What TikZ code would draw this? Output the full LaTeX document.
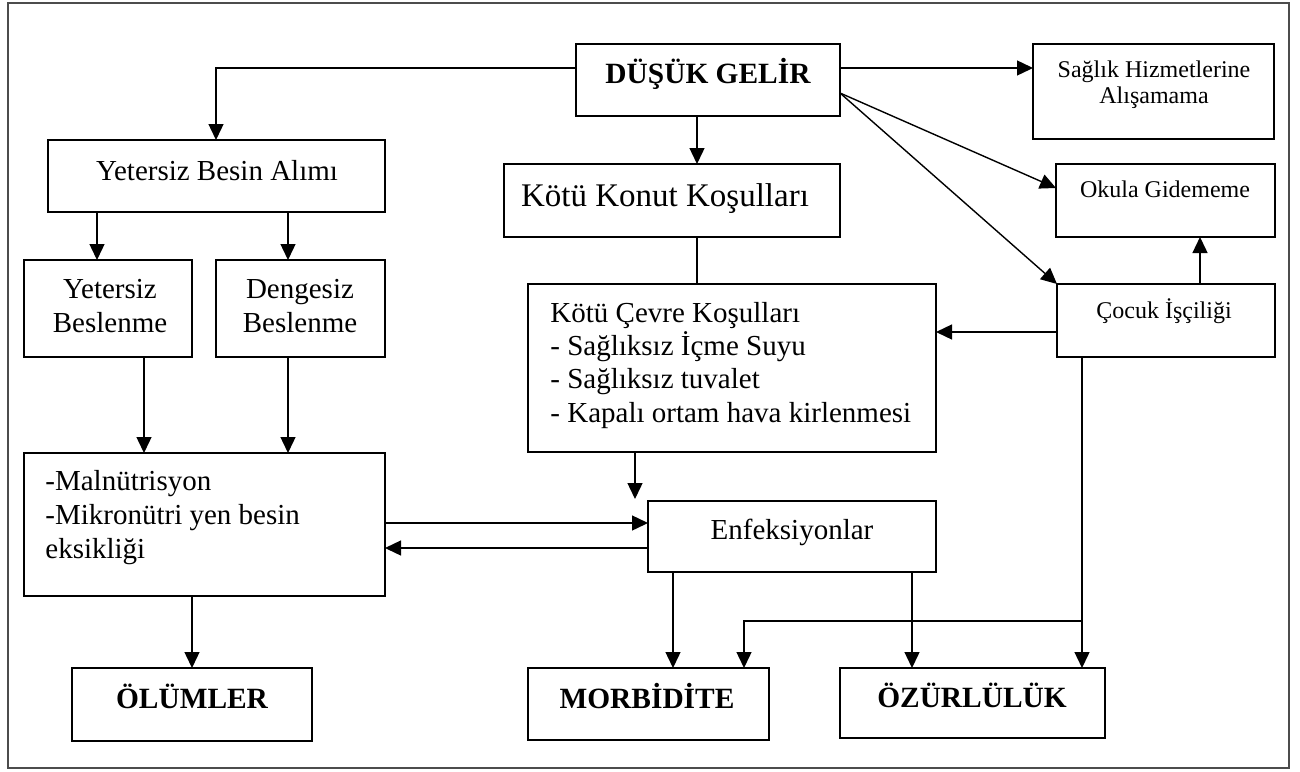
\documentclass[tikz,border=0pt]{standalone}
\usepackage{fontspec}
\setmainfont{Liberation Serif}
\usetikzlibrary{arrows.meta,fit}
\begin{document}
\begin{tikzpicture}[x=0.5pt,y=-0.5pt,
  box/.style={draw, line width=0.95pt, inner sep=0pt, outer sep=0pt},
  arr/.style={line width=0.7pt, -{Triangle[length=8pt,width=7.5pt]}},
  ln/.style={line width=0.7pt},
  tn/.style={inner sep=0pt, anchor=base, font=\fontsize{14.5}{17}\selectfont},
  tl/.style={inner sep=0pt, anchor=base west, font=\fontsize{14.5}{17}\selectfont},
  tb/.style={inner sep=0pt, anchor=base, font=\fontsize{14.7}{17}\selectfont\bfseries},
  ts/.style={inner sep=0pt, anchor=base, font=\fontsize{12}{14}\selectfont},
  tk/.style={inner sep=0pt, anchor=base, font=\fontsize{16.5}{19}\selectfont}
]
\useasboundingbox (0,0) rectangle (1300,771);
% frame
\draw[line width=0.8pt, gray!60!black] (8,3) rectangle (1289,768);

% boxes
\node[box, fit={(576,44) (840,116)}] (dg) {};
\node[box, fit={(1033,44) (1274,139)}] (sag) {};
\node[box, fit={(48,140) (385,212)}] (yba) {};
\node[box, fit={(504,164) (840,237)}] (kk) {};
\node[box, fit={(1056,164) (1275,237)}] (oku) {};
\node[box, fit={(24,260) (192,357)}] (yb) {};
\node[box, fit={(216,260) (385,357)}] (db) {};
\node[box, fit={(528,284) (936,452)}] (kc) {};
\node[box, fit={(1057,284) (1275,357)}] (coc) {};
\node[box, fit={(24,453) (385,596)}] (mal) {};
\node[box, fit={(648,501) (936,572)}] (enf) {};
\node[box, fit={(72,668) (312,741)}] (olu) {};
\node[box, fit={(528,668) (769,740)}] (mor) {};
\node[box, fit={(840,668) (1105,738)}] (ozu) {};

% texts
\node[tb] (dgt) at (708,83) {DÜŞÜK GELİR};
\node[ts] (sagt1) at (1154,77) {Sağlık Hizmetlerine};
\node[ts] (sagt2) at (1154,103) {Alışamama};
\node[tn] (ybat) at (217,180) {Yetersiz Besin Alımı};
\node[tk] (kkt) at (665,206) {Kötü Konut Koşulları};
\node[ts] (okut) at (1165,197) {Okula Gidememe};
\node[tn] (ybt1) at (110,298) {Yetersiz};
\node[tn] (ybt2) at (110,332) {Beslenme};
\node[tn] (dbt1) at (300,298) {Dengesiz};
\node[tn] (dbt2) at (300,332) {Beslenme};
\node[tl] (kct1) at (550,322) {Kötü Çevre Koşulları};
\node[tl] (kct2) at (550,355) {- Sağlıksız İçme Suyu};
\node[tl] (kct3) at (550,388) {- Sağlıksız tuvalet};
\node[tl] (kct4) at (550,422) {- Kapalı ortam hava kirlenmesi};
\node[ts] (coct) at (1164,318) {Çocuk İşçiliği};
\node[tl] (malt1) at (45,490) {-Malnütrisyon};
\node[tl] (malt2) at (45,524) {-Mikronütri yen besin};
\node[tl] (malt3) at (45,558) {eksikliği};
\node[tn] (enft) at (792,539) {Enfeksiyonlar};
\node[tb] (olut) at (192,708) {ÖLÜMLER};
\node[tb] (mort) at (647,708) {MORBİDİTE};
\node[tb] (ozut) at (972,707) {ÖZÜRLÜLÜK};

% helper coordinates
\coordinate (r68) at (0,68);
\coordinate (r93) at (0,93);
\coordinate (r188) at (0,188);
\coordinate (r332) at (0,332);
\coordinate (r523) at (0,523);
\coordinate (r548) at (0,548);
\coordinate (r621) at (0,621);
\coordinate (c216) at (216,0);
\coordinate (c697) at (697,0);
\coordinate (c1200) at (1200,0);
\coordinate (c97) at (97,0);
\coordinate (c288) at (288,0);
\coordinate (c144) at (144,0);
\coordinate (c192) at (192,0);
\coordinate (c673) at (673,0);
\coordinate (c912) at (912,0);
\coordinate (c1082) at (1082,0);
\coordinate (c744) at (744,0);
\coordinate (kcend) at (635,499);

% connectors
\draw[arr] (dg.west |- r68) -| (c216 |- yba.north);
\draw[arr] (dg.east |- r68) -- (sag.west |- r68);
\draw[arr] (c697 |- dg.south) -- (c697 |- kk.north);
\draw[arr] (dg.east |- r93) -- (oku.west |- r188);
\draw[arr] (dg.east |- r93) -- (coc.north west);
\draw[arr] (c1200 |- coc.north) -- (c1200 |- oku.south);
\draw[arr] (coc.west |- r332) -- (kc.east |- r332);
\draw[ln] (c697 |- kk.south) -- (c697 |- kc.north);
\draw[arr] (c97 |- yba.south) -- (c97 |- yb.north);
\draw[arr] (c288 |- yba.south) -- (c288 |- db.north);
\draw[arr] (c144 |- yb.south) -- (c144 |- mal.north);
\draw[arr] (c288 |- db.south) -- (c288 |- mal.north);
\draw[arr] (kcend |- kc.south) -- (kcend);
\draw[arr] (mal.east |- r523) -- (enf.west |- r523);
\draw[arr] (enf.west |- r548) -- (mal.east |- r548);
\draw[arr] (c192 |- mal.south) -- (c192 |- olu.north);
\draw[arr] (c673 |- enf.south) -- (c673 |- mor.north);
\draw[arr] (c912 |- enf.south) -- (c912 |- ozu.north);
\draw[arr] (c1082 |- coc.south) -- (c1082 |- ozu.north);
\draw[arr] (c1082 |- r621) -| (c744 |- mor.north);
\end{tikzpicture}
\end{document}
